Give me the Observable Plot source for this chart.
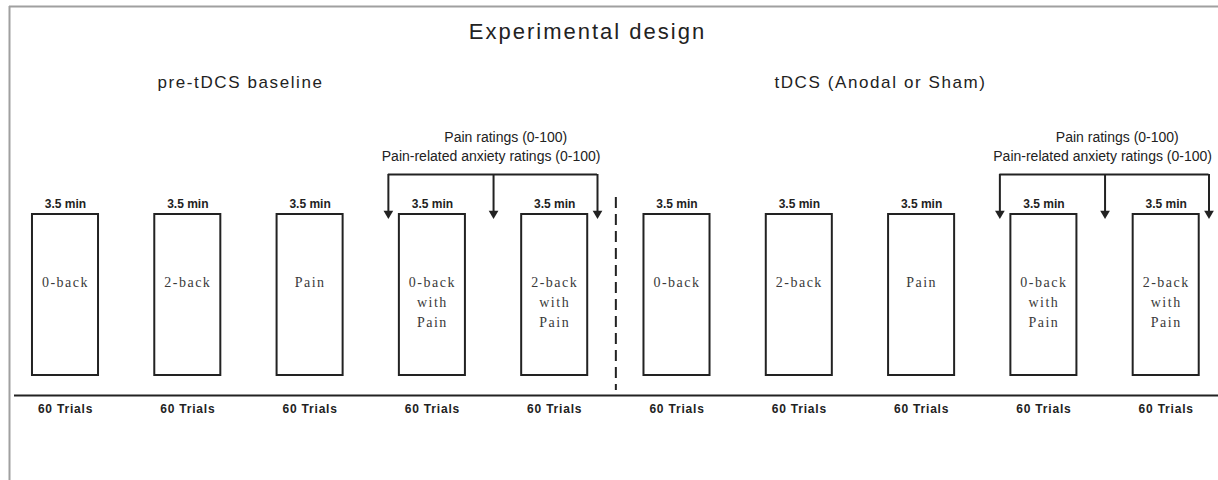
<!DOCTYPE html>
<html><head><meta charset="utf-8">
<script src="https://cdn.jsdelivr.net/npm/d3@7"></script>
<script src="https://cdn.jsdelivr.net/npm/@observablehq/plot@0.6"></script>
<style>body{margin:0;background:#fff;} svg{display:block;}</style>
</head><body><div id="chart"></div>
<script>
// ---- data ----
const chartTitle = "Experimental design";
const phaseTitles = ["pre-tDCS baseline", "tDCS (Anodal or Sham)"];
const blockLabels = ["0-back", "2-back", "Pain", "0-back\nwith\nPain", "2-back\nwith\nPain",
                     "0-back", "2-back", "Pain", "0-back\nwith\nPain", "2-back\nwith\nPain"];
const blockDurations = ["3.5 min", "3.5 min", "3.5 min", "3.5 min", "3.5 min",
                        "3.5 min", "3.5 min", "3.5 min", "3.5 min", "3.5 min"];
const blockTrials = ["60 Trials", "60 Trials", "60 Trials", "60 Trials", "60 Trials",
                     "60 Trials", "60 Trials", "60 Trials", "60 Trials", "60 Trials"];
const ratingLines = ["Pain ratings (0-100)", "Pain-related anxiety ratings (0-100)"];
const ratedBlockPairs = [[3, 4], [8, 9]];   // block indices followed by ratings
const phaseBreakAfter = 4;                   // last block of the baseline phase

// ---- layout (pixels) ----
const W = 1218, H = 480;
const firstCenter = 65, spacing = 122.3;
const ix = px => (px - firstCenter) / spacing;   // pixel -> block-index units
const boxHalf = 0.27;
const L = {frameTop: 6, frameLeft: 9, title: 31, phase: 82, rating1: 137, rating2: 156,
           bracket: 174, arrowTip: 216, dur: 204, boxTop: 214, boxBottom: 375,
           label: 272, dashTop: 197, dashBottom: 390, base: 395, trials: 409};
const phaseCenters = [ix(240), ix(880)];
const ratingShift = [0.1, -0.02];

const blocks = blockLabels.map((label, i) => ({i, label, dur: blockDurations[i], trials: blockTrials[i]}));
const brackets = ratedBlockPairs.map(([a, b]) => ({a, b, left: a - 0.36, mid: (a + b) / 2, right: b + 0.35}));
const drops = brackets.flatMap(d => [d.left, d.mid, d.right]);
const ratingText = brackets.flatMap(d => ratingLines.map((t, k) => ({x: d.mid + ratingShift[k], t, k})));

const sans = "Liberation Sans, Arial, sans-serif";
const serif = "Liberation Serif, Times New Roman, serif";
const ink = "#222";

const chart = Plot.plot({
  width: W, height: H,
  margin: 0,
  x: {domain: [0, 9], range: [firstCenter, firstCenter + 9 * spacing], axis: null},
  y: {domain: [0, H], range: [0, H], axis: null},
  style: {fontFamily: sans, background: "#fff"},
  marks: [
    // outer frame (top + left)
    Plot.ruleY([L.frameTop], {x1: ix(L.frameLeft), x2: ix(W), stroke: "#a0a0a0", strokeWidth: 2}),
    Plot.ruleX([ix(L.frameLeft)], {y1: L.frameTop, y2: H, stroke: "#a0a0a0", strokeWidth: 2}),
    // titles
    Plot.text([chartTitle], {x: () => ix(587), y: L.title, text: d => d, fontSize: 22, fill: ink,
                             fontFamily: sans, className: "ls-title"}),
    Plot.text(phaseTitles, {x: (d, i) => phaseCenters[i], y: L.phase, text: d => d, fontSize: 17, fill: ink,
                            fontFamily: sans, className: "ls-phase"}),
    // rating annotations
    Plot.text(ratingText, {x: "x", y: d => d.k === 0 ? L.rating1 : L.rating2, text: "t", fontSize: 14, fill: ink,
                           fontFamily: sans}),
    Plot.ruleY(brackets, {x1: "left", x2: "right", y: () => L.bracket, stroke: ink, strokeWidth: 2}),
    Plot.ruleX(drops, {x: d => d, y1: L.bracket, y2: L.arrowTip - 5, stroke: ink, strokeWidth: 2}),
    Plot.dot(drops, {x: d => d, y: () => L.arrowTip - 3, symbol: "triangle", rotate: 180, r: 3.6, fill: ink, stroke: null}),
    // phase separator
    Plot.ruleX([phaseBreakAfter + 0.5], {y1: L.dashTop, y2: L.dashBottom, stroke: ink, strokeWidth: 2, strokeDasharray: "11,6"}),
    // blocks
    Plot.rect(blocks, {x1: d => d.i - boxHalf, x2: d => d.i + boxHalf, y1: () => L.boxTop, y2: () => L.boxBottom,
                       fill: "#fff", stroke: ink, strokeWidth: 2}),
    Plot.text(blocks, {x: "i", y: () => L.label, text: "label", lineAnchor: "top", lineHeight: 1.43,
                       fontSize: 14, fill: "#3a3a3a", fontFamily: serif, className: "ls-box"}),
    Plot.text(blocks, {x: "i", y: () => L.dur, text: "dur", fontSize: 12, fontWeight: "bold", fill: ink, fontFamily: sans}),
    // time axis line + trials
    Plot.ruleY([L.base], {x1: ix(14), x2: ix(W), stroke: ink, strokeWidth: 2}),
    Plot.text(blocks, {x: "i", y: () => L.trials, text: "trials", fontSize: 12, fontWeight: "bold", fill: ink,
                       fontFamily: sans, className: "ls-trials"})
  ]
});
document.getElementById("chart").append(chart);
const spacingByClass = {"ls-title": "2px", "ls-phase": "1.6px", "ls-box": "1.5px", "ls-trials": "0.8px"};
for (const [cls, ls] of Object.entries(spacingByClass)) d3.select(chart).selectAll("." + cls).style("letter-spacing", ls);
d3.select(chart).selectAll("g[font-family^='Liberation Serif']").style("letter-spacing", "1.5px");
</script>
</body></html>
